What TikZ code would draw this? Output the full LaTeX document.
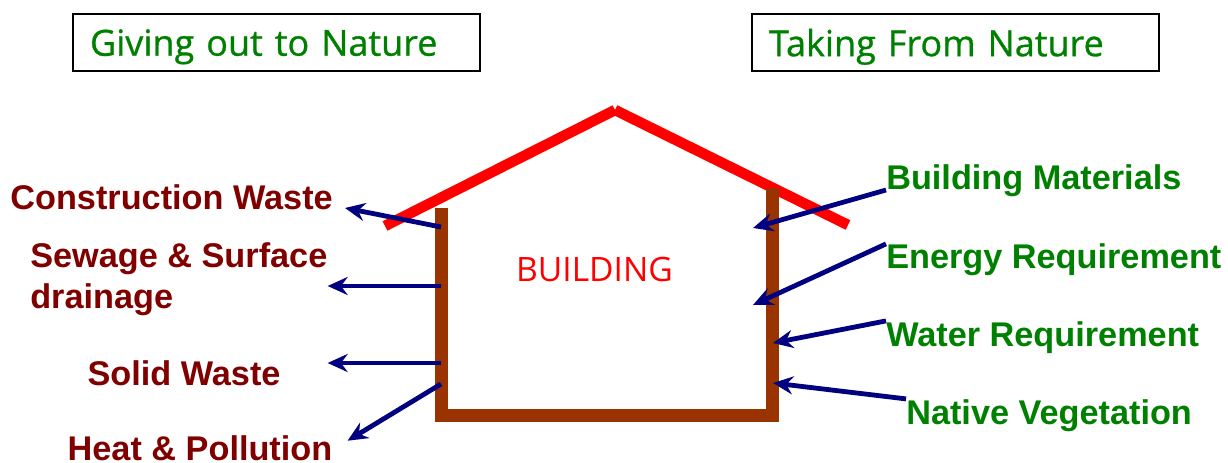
\documentclass[tikz,border=0pt]{standalone}
\usepackage{fontspec}
\setmainfont{Liberation Sans}
\newfontfamily\headfont[FakeBold=0.8]{Open Sans}
\newfontfamily\bldgfont{Open Sans}
\usetikzlibrary{arrows.meta}
\definecolor{natgreen}{HTML}{008000}
\definecolor{wastered}{HTML}{800000}
\definecolor{flowblue}{HTML}{000080}
\definecolor{wallbrown}{HTML}{993300}
\begin{document}
\begin{tikzpicture}[x=0.75pt,y=-0.75pt,
  headbox/.style={draw=black,line width=1.5pt,minimum height=42.75pt,text width=279.75pt,
    inner xsep=12.75pt,text depth=0pt,align=left,text=natgreen,
    font=\headfont\fontsize{27pt}{30pt}\selectfont},
  outlabel/.style={inner sep=0pt,text=wastered,font=\bfseries\fontsize{25.7pt}{30.75pt}\selectfont},
  inlabel/.style={inner sep=0pt,text=natgreen,font=\bfseries\fontsize{25.7pt}{30.75pt}\selectfont},
  roof/.style={red,line width=7.9pt},
  wall/.style={wallbrown,line width=9.75pt,line join=miter},
  flow/.style={flowblue,line width=3.6pt,-{Stealth[length=15pt,width=13.5pt,inset=5pt]}}]
  \useasboundingbox (0,0) rectangle (1228,463);
  \node[headbox] (give) at (276.5,42.5) {Giving out to Nature};
  \node[headbox] (take) at (955.5,42.5) {Taking From Nature};
  \draw[roof] (615,110)--(385,226);
  \draw[roof] (615,110)--(848,225);
  \draw[wall] (441.5,208)--(441.5,415)--(772,415)--(772,188);
  \node[anchor=base,text=red,font=\bldgfont\fontsize{25.2pt}{30pt}\selectfont] (bldg) at (594.5,282) {BUILDING};
  \node[outlabel,anchor=base east] (cw) at (333,210) {Construction Waste};
  \node[outlabel,anchor=west,align=left] (sew) at (30,279.6) {Sewage \& Surface\\drainage};
  \node[outlabel,anchor=base] (sw) at (184,385) {Solid Waste};
  \node[outlabel,anchor=base] (heat) at (200,460.5) {Heat \& Pollution};
  \node[inlabel,anchor=base west] (bm) at (886,190) {Building Materials};
  \node[inlabel,anchor=base west] (er) at (886,269) {Energy Requirement};
  \node[inlabel,anchor=base west] (wr) at (886,346) {Water Requirement};
  \node[inlabel,anchor=base west] (nv) at (906,424) {Native Vegetation};
  \coordinate (lw1) at (441,227);
  \coordinate (lw2) at (441,286);
  \coordinate (lw3) at (441,363);
  \coordinate (lw4) at (441,384);
  \coordinate (rw1) at (753,228);
  \coordinate (rw2) at (753,305);
  \coordinate (rw3) at (773,343);
  \coordinate (rw4) at (773,383);
  \draw[flow] (lw1)--([xshift=9pt,yshift=1.5pt]cw.base east);
  \draw[flow] (lw2)--(lw2 -| sew.east);
  \draw[flow] (lw3)--(lw3 -| sew.east);
  \draw[flow] (lw4)--([xshift=11.25pt,yshift=-4pt]heat.north east);
  \draw[flow] (bm.base west)--(rw1);
  \draw[flow] (er.north west)--(rw2);
  \draw[flow] (wr.north west)--(rw3);
  \draw[flow] (nv.north west)--(rw4);
\end{tikzpicture}
\end{document}
